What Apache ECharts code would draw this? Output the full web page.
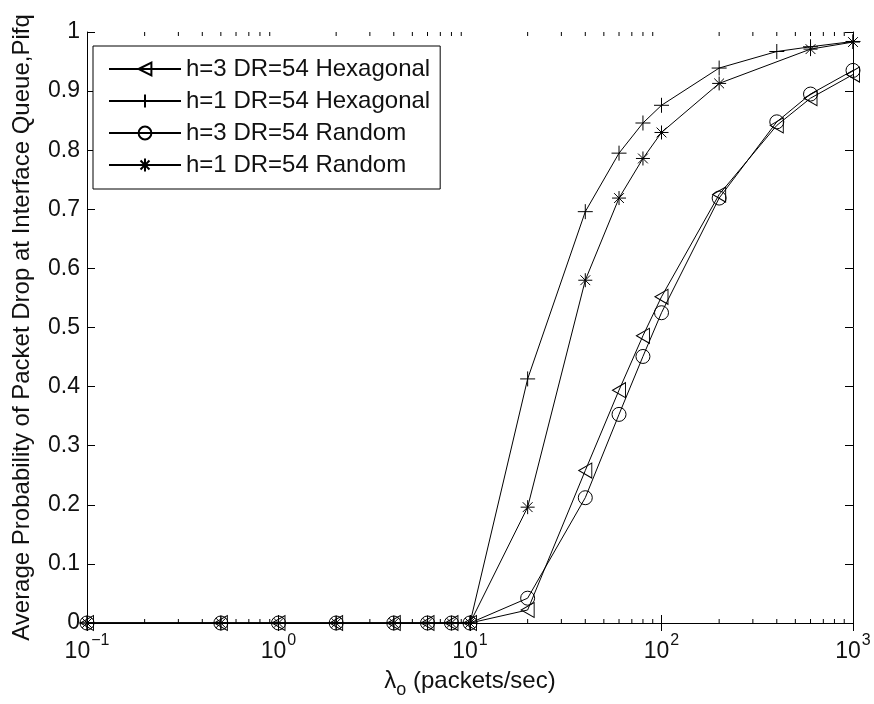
<!DOCTYPE html>
<html><head><meta charset="utf-8">
<script src="https://cdn.jsdelivr.net/npm/echarts@6/dist/echarts.min.js"></script>
<style>html,body{margin:0;padding:0;background:#fff}#c{width:874px;height:704px}</style>
</head><body><div id="c"></div>
<script>
var seriesNames = ['h=3 DR=54 Hexagonal','h=1 DR=54 Hexagonal','h=3 DR=54 Random','h=1 DR=54 Random'];
var xHex3 = [0.1,0.5,1,2,4,6,8,10,20,40,60,80,100,200,400,600,1000];
var yHex3 = [0,0,0,0,0,0,0,0,0.022,0.258,0.394,0.486,0.552,0.725,0.842,0.888,0.928];
var xHex1 = [0.1,0.5,1,2,4,6,8,10,20,40,60,80,100,200,400,600,1000];
var yHex1 = [0,0,0,0,0,0,0,0,0.413,0.696,0.795,0.846,0.876,0.939,0.967,0.975,0.984];
var xRand3 = [0.1,0.5,1,2,4,6,8,10,20,40,60,80,100,200,400,600,1000];
var yRand3 = [0,0,0,0,0,0,0,0,0.042,0.212,0.353,0.451,0.525,0.719,0.848,0.895,0.935];
var xRand1 = [0.1,0.5,1,2,4,6,8,10,20,40,60,80,100,200,600,1000];
var yRand1 = [0,0,0,0,0,0,0,0,0.196,0.580,0.719,0.786,0.830,0.913,0.971,0.983];
var yTickLabels = ['0','0.1','0.2','0.3','0.4','0.5','0.6','0.7','0.8','0.9','1'];
var xMinorTicks = [0.2,0.3,0.4,0.5,0.6,0.7,0.8,0.9,2,3,4,5,6,7,8,9,20,30,40,50,60,70,80,90,200,300,400,500,600,700,800,900];

var FONT = 'Liberation Sans, Arial, Helvetica, sans-serif';
var TXT = '#111';
function pairs(xs, ys){ return xs.map(function(x,i){return [x, ys[i]];}); }

var symTri = 'path://M0,5L9,0L9,10Z';
var symPlus = 'path://M5,0L5,10M0,5L10,5';
var symStar = 'path://M5,0L5,10M0,5L10,5M1.5,1.5L8.5,8.5M1.5,8.5L8.5,1.5';

function mk(name, data, sym, size){
  return {
    name: name, type: 'line', data: data, symbol: sym, symbolSize: size,
    showAllSymbol: true, animation: false,
    lineStyle: {color: '#000', width: 1},
    itemStyle: {color: 'rgba(255,255,255,0)', borderColor: '#000', borderWidth: 1},
    emphasis: {disabled: true}
  };
}

var chart = echarts.init(document.getElementById('c'), null, {renderer: 'canvas'});
var option = {
  backgroundColor: '#fff',
  animation: false,
  textStyle: {fontFamily: FONT, color: TXT},
  grid: {left: 87, right: 21, top: 32, bottom: 81, containLabel: false},
  legend: {
    left: 93, top: 46, orient: 'vertical',
    data: seriesNames,
    backgroundColor: '#fff', borderColor: '#000', borderWidth: 1, borderRadius: 0,
    padding: [11, 10, 12, 15], itemGap: 8, itemWidth: 72, itemHeight: 16,
    textStyle: {fontFamily: FONT, fontSize: 24, color: TXT},
    selectedMode: false
  },
  xAxis: [{
    type: 'log', logBase: 10, min: 0.1, max: 1000,
    name: '{a|λ}{s|o}{a| (packets/sec)}', nameLocation: 'middle', nameGap: 40,
    nameTextStyle: {rich: {
      a: {fontFamily: FONT, fontSize: 24, color: TXT, verticalAlign: 'middle'},
      s: {fontFamily: FONT, fontSize: 18, color: TXT, verticalAlign: 'bottom', padding: [18,0,0,0]}
    }},
    axisLine: {lineStyle: {color: '#000', width: 1}},
    axisTick: {inside: true, length: 8, lineStyle: {color: '#000'}},
    splitLine: {show: false},
    axisLabel: {
      margin: 10,
      formatter: function(v){
        var e = Math.round(Math.log10(v));
        return '{b|10}{p|' + (e < 0 ? '\u2212' + (-e) : e) + '}';
      },
      rich: {
        b: {fontFamily: FONT, fontSize: 23, color: TXT, verticalAlign: 'middle'},
        p: {fontFamily: FONT, fontSize: 16, color: TXT, verticalAlign: 'top', padding: [0,0,22,1]}
      }
    }
  }, {
    type: 'log', logBase: 10, min: 0.1, max: 1000, position: 'top',
    axisLine: {lineStyle: {color: '#000', width: 1}},
    axisTick: {inside: true, length: 8, lineStyle: {color: '#000'}},
    axisLabel: {show: false}, splitLine: {show: false}
  }],
  yAxis: [{
    type: 'value', min: 0, max: 1, interval: 0.1,
    name: 'Average Probability of Packet Drop at Interface Queue,Pifq',
    nameLocation: 'middle', nameGap: 53,
    nameTextStyle: {fontFamily: FONT, fontSize: 24, color: TXT},
    axisLine: {show: true, lineStyle: {color: '#000', width: 1}},
    axisTick: {show: true, inside: true, length: 8, lineStyle: {color: '#000'}},
    splitLine: {show: false},
    axisLabel: {fontFamily: FONT, fontSize: 23, color: TXT, margin: 7,
      formatter: function(v){ return yTickLabels[Math.round(v*10)]; }}
  }, {
    type: 'value', min: 0, max: 1, interval: 0.1, position: 'right',
    axisLine: {show: true, lineStyle: {color: '#000', width: 1}},
    axisTick: {show: true, inside: true, length: 8, lineStyle: {color: '#000'}},
    axisLabel: {show: false}, splitLine: {show: false}
  }],
  series: [
    {
      type: 'custom', silent: true, animation: false, clip: false, z: 1,
      data: xMinorTicks.map(function(v){return [v];}),
      renderItem: function(params, api){
        var b = api.coord([api.value(0), 0]);
        var t = api.coord([api.value(0), 1]);
        return {type: 'group', children: [
          {type: 'line', shape: {x1: b[0], y1: b[1], x2: b[0], y2: b[1]-4}, style: {stroke: '#000', lineWidth: 1}},
          {type: 'line', shape: {x1: t[0], y1: t[1], x2: t[0], y2: t[1]+4}, style: {stroke: '#000', lineWidth: 1}}
        ]};
      }
    },
    mk(seriesNames[0], pairs(xHex3, yHex3), symTri, [13, 15]),
    mk(seriesNames[1], pairs(xHex1, yHex1), symPlus, 15),
    mk(seriesNames[2], pairs(xRand3, yRand3), 'circle', 14),
    mk(seriesNames[3], pairs(xRand1, yRand1), symStar, 14)
  ]
};
chart.setOption(option);
</script>
</body></html>
